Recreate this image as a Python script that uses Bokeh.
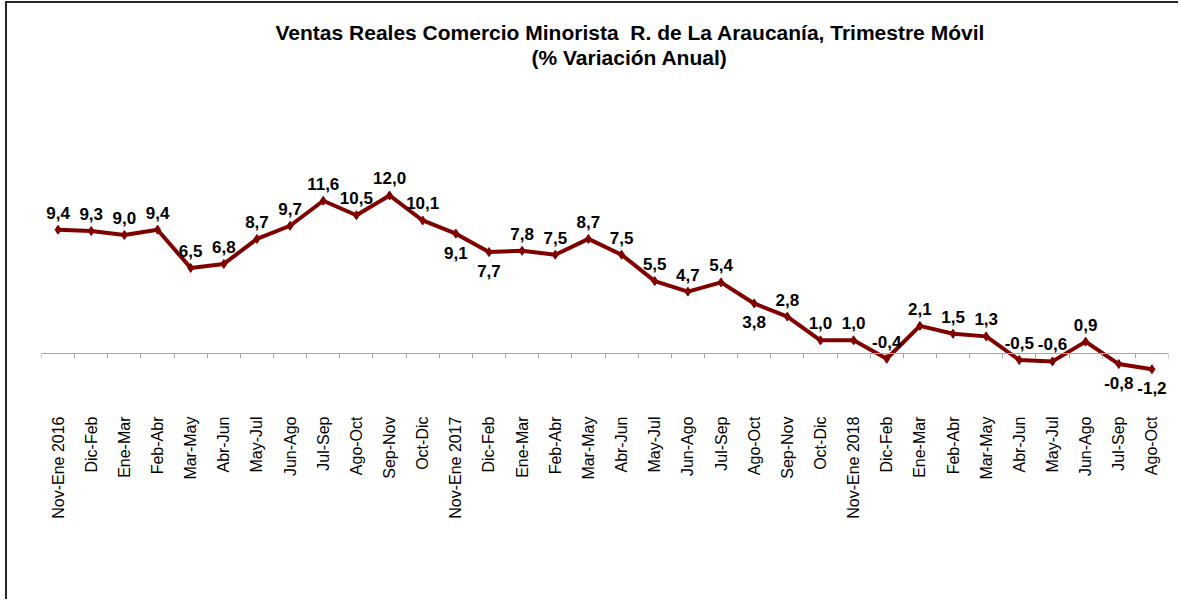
import numpy as np
from bokeh.plotting import figure
from bokeh.models import ColumnDataSource, FixedTicker, Range1d, Title
from bokeh.core.properties import value
from bokeh.embed import file_html
from bokeh.resources import INLINE

# ---- data ----
periods = ["Nov-Ene 2016", "Dic-Feb", "Ene-Mar", "Feb-Abr", "Mar-May", "Abr-Jun",
           "May-Jul", "Jun-Ago", "Jul-Sep", "Ago-Oct", "Sep-Nov", "Oct-Dic",
           "Nov-Ene 2017", "Dic-Feb", "Ene-Mar", "Feb-Abr", "Mar-May", "Abr-Jun",
           "May-Jul", "Jun-Ago", "Jul-Sep", "Ago-Oct", "Sep-Nov", "Oct-Dic",
           "Nov-Ene 2018", "Dic-Feb", "Ene-Mar", "Feb-Abr", "Mar-May", "Abr-Jun",
           "May-Jul", "Jun-Ago", "Jul-Sep", "Ago-Oct"]
values = [9.4, 9.3, 9.0, 9.4, 6.5, 6.8, 8.7, 9.7, 11.6, 10.5, 12.0, 10.1,
          9.1, 7.7, 7.8, 7.5, 8.7, 7.5, 5.5, 4.7, 5.4, 3.8, 2.8, 1.0,
          1.0, -0.4, 2.1, 1.5, 1.3, -0.5, -0.6, 0.9, -0.8, -1.2]

title_line1 = "Ventas Reales Comercio Minorista\u00a0 R. de La Araucanía, Trimestre Móvil"
title_line2 = "(% Variación Anual)"

# ---- label styling (placement relative to each point) ----
label_side = ["a"] * 12 + ["b", "b"] + ["a"] * 7 + ["b"] + ["a"] * 10 + ["b", "b"]

# ---- derived ----
x = list(range(len(periods)))
texts = [f"{v:.1f}".replace(".", ",") for v in values]


def subset(side):
    idx = [i for i in x if label_side[i] == side]
    return ColumnDataSource(dict(x=idx, y=[values[i] for i in idx],
                                 t=[texts[i] for i in idx]))


above = subset("a")
below = subset("b")

FONT = "Liberation Sans"
RED = "#800000"

p = figure(width=1173, height=598, output_backend="svg", toolbar_location=None,
           x_range=Range1d(-0.5, len(periods) - 0.5),
           y_range=Range1d(-17.16, 21.64),
           min_border_left=34, min_border_right=12, min_border_bottom=22,
           min_border_top=65)

title_style = dict(text_font=FONT, text_font_size="21px", text_font_style="bold",
                   text_color="#000000", align="left", standoff=0)
p.title.text = title_line1
p.title.offset = 234
for k, v in title_style.items():
    setattr(p.title, k, v)
p.add_layout(Title(text=title_line2, offset=490, **title_style), "above")

p.yaxis.visible = False
p.grid.visible = False
p.outline_line_color = None
p.background_fill_color = "white"
p.border_fill_color = "white"

ax = p.xaxis[0]
ax.fixed_location = 0
ax.ticker = FixedTicker(ticks=x, minor_ticks=[i - 0.5 for i in range(len(periods) + 1)])
ax.major_label_overrides = {i: lab for i, lab in enumerate(periods)}
ax.major_label_orientation = np.pi / 2
ax.major_tick_line_color = None
ax.major_tick_out = 0
ax.major_tick_in = 0
ax.minor_tick_out = 5
ax.minor_tick_in = 0
ax.minor_tick_line_color = "#a6a6a6"
ax.axis_line_color = "#a6a6a6"
ax.major_label_standoff = 58
ax.major_label_text_font = FONT
ax.major_label_text_font_size = "16px"
ax.major_label_text_color = "#000000"

p.line(x, values, line_color=RED, line_width=4)
p.scatter(x, values, marker="diamond", size=9, color=RED)

common = dict(text="t", text_font=value(FONT), text_font_size="17px",
              text_font_style="bold", text_color="#000000", text_align="center",
              text_baseline="alphabetic")
p.text(x="x", y="y", source=above, y_offset=-17, **common)
p.text(x="x", y="y", source=below, y_offset=19, **common)

p.styles = {"border-left": "2px solid #262626", "border-top": "2px solid #262626",
            "margin-left": "5px", "margin-top": "1px"}

open("out.html", "w").write(file_html(p, INLINE))
